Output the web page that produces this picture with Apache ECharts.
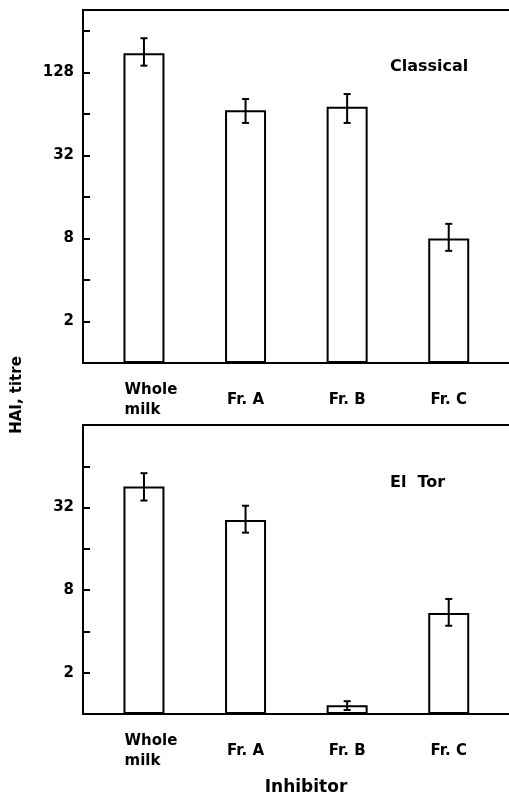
<!DOCTYPE html>
<html>
<head>
<meta charset="utf-8">
<script src="https://cdn.jsdelivr.net/npm/echarts@6/dist/echarts.min.js"></script>
<style>
html,body{margin:0;padding:0;background:#fff;}
#c{width:509px;height:795px;}
</style>
</head>
<body>
<div id="c"></div>
<script>
// ---- data (HAI titres) ----
const categories = ['Whole milk', 'Fr. A', 'Fr. B', 'Fr. C'];
const classicalTitre = [176, 68, 72, 8];
const classicalUpper = [226, 82, 89, 10.2];
const classicalLower = [143, 55, 55, 6.5];
const elTorTitre = [45.6, 26, 1.16, 5.46];
const elTorUpper = [57, 33, 1.24, 6.9];
const elTorLower = [36, 21, 1.07, 4.4];
const yTickLabels = [2, 8, 32, 128];
const panelNames = ['Classical', 'El  Tor'];

const LBL_FONT = 'DejaVu Sans';
const chart = echarts.init(document.getElementById('c'), null, {renderer: 'canvas'});

function barData(t) { return t.map((v, i) => [i, Math.log2(v)]); }
function errData(lo, hi) { return lo.map((v, i) => [i, Math.log2(v), Math.log2(hi[i])]); }

function errRender(params, api) {
  const x = api.value(0);
  const p1 = api.coord([x, api.value(1)]);
  const p2 = api.coord([x, api.value(2)]);
  const cap = 3.5;
  const st = {stroke: '#000', lineWidth: 2};
  return {
    type: 'group',
    children: [
      {type: 'line', shape: {x1: p1[0], y1: p1[1], x2: p2[0], y2: p2[1]}, style: st},
      {type: 'line', shape: {x1: p1[0] - cap, y1: p1[1], x2: p1[0] + cap, y2: p1[1]}, style: st},
      {type: 'line', shape: {x1: p2[0] - cap, y1: p2[1], x2: p2[0] + cap, y2: p2[1]}, style: st}
    ]
  };
}

function xAxisDef(gi) {
  return {
    type: 'value', gridIndex: gi, min: -0.6, max: 3.8,
    splitLine: {show: false},
    axisLine: {show: true, onZero: false, lineStyle: {color: '#000', width: 2}},
    axisTick: {show: false},
    axisLabel: {
      show: true,
      customValues: categories.map((c, i) => i),
      margin: 37,
      verticalAlign: 'middle',
      color: '#000',
      fontFamily: LBL_FONT, fontWeight: 'bold', fontSize: 15,
      formatter: function (v) {
        const name = categories[Math.round(v)] || '';
        if (name.indexOf(' ') > 0 && name.indexOf('Fr') !== 0) {
          const parts = name.split(' ');
          return '{a|' + parts[0] + '}\n{a|' + parts[1] + '}';
        }
        return name;
      },
      rich: {
        a: {fontFamily: LBL_FONT, fontWeight: 'bold', fontSize: 15, lineHeight: 20, align: 'left', color: '#000', padding: [0, 0, 0, 14]}
      }
    }
  };
}

function yAxisDef(gi, max) {
  return {
    type: 'value', gridIndex: gi, min: 0, max: max, interval: 1,
    splitLine: {show: false},
    axisLine: {show: true, onZero: false, lineStyle: {color: '#000', width: 2}},
    axisTick: {show: true, inside: true, length: 7, lineStyle: {color: '#000', width: 2}},
    axisLabel: {
      margin: 9, color: '#000',
      fontFamily: 'DejaVu Sans', fontWeight: 'bold', fontSize: 15,
      formatter: function (v) {
        const t = Math.pow(2, v);
        return (Number.isInteger(v) && v < max && yTickLabels.indexOf(t) >= 0) ? String(t) : '';
      }
    }
  };
}

const barStyle = {color: '#fff', borderColor: '#000', borderWidth: 2};

const option = {
  backgroundColor: '#fff',
  animation: false,
  grid: [
    {left: 83, top: 10, width: 447, height: 353, outerBoundsMode: 'none', containLabel: false, show: true, borderColor: '#000', borderWidth: 2, backgroundColor: 'transparent'},
    {left: 83, top: 425, width: 447, height: 289, outerBoundsMode: 'none', containLabel: false, show: true, borderColor: '#000', borderWidth: 2, backgroundColor: 'transparent'}
  ],
  xAxis: [xAxisDef(0), xAxisDef(1)],
  yAxis: [yAxisDef(0, 8.5), yAxisDef(1, 7)],
  series: [
    {type: 'bar', xAxisIndex: 0, yAxisIndex: 0, barWidth: 41, data: barData(classicalTitre), itemStyle: barStyle, silent: true},
    {type: 'custom', xAxisIndex: 0, yAxisIndex: 0, data: errData(classicalLower, classicalUpper), renderItem: errRender, encode: {x: 0, y: [1, 2]}, z: 5},
    {type: 'bar', xAxisIndex: 1, yAxisIndex: 1, barWidth: 41, data: barData(elTorTitre), itemStyle: barStyle, silent: true},
    {type: 'custom', xAxisIndex: 1, yAxisIndex: 1, data: errData(elTorLower, elTorUpper), renderItem: errRender, encode: {x: 0, y: [1, 2]}, z: 5}
  ],
  graphic: [
    {type: 'text', left: 390, top: 59, style: {text: panelNames[0], fill: '#000', font: 'bold 16px "DejaVu Sans"'}},
    {type: 'text', left: 390, top: 475, style: {text: panelNames[1], fill: '#000', font: 'bold 16px "DejaVu Sans"'}},
    {type: 'text', x: 17, y: 395, rotation: Math.PI / 2, style: {text: 'HAI, titre', fill: '#000', font: 'bold 15px "DejaVu Sans"', align: 'center', verticalAlign: 'middle'}},
    {type: 'text', x: 306, y: 788, style: {text: 'Inhibitor', fill: '#000', font: 'bold 17px "DejaVu Sans"', align: 'center', verticalAlign: 'middle'}}
  ]
};
chart.setOption(option);
</script>
</body>
</html>
